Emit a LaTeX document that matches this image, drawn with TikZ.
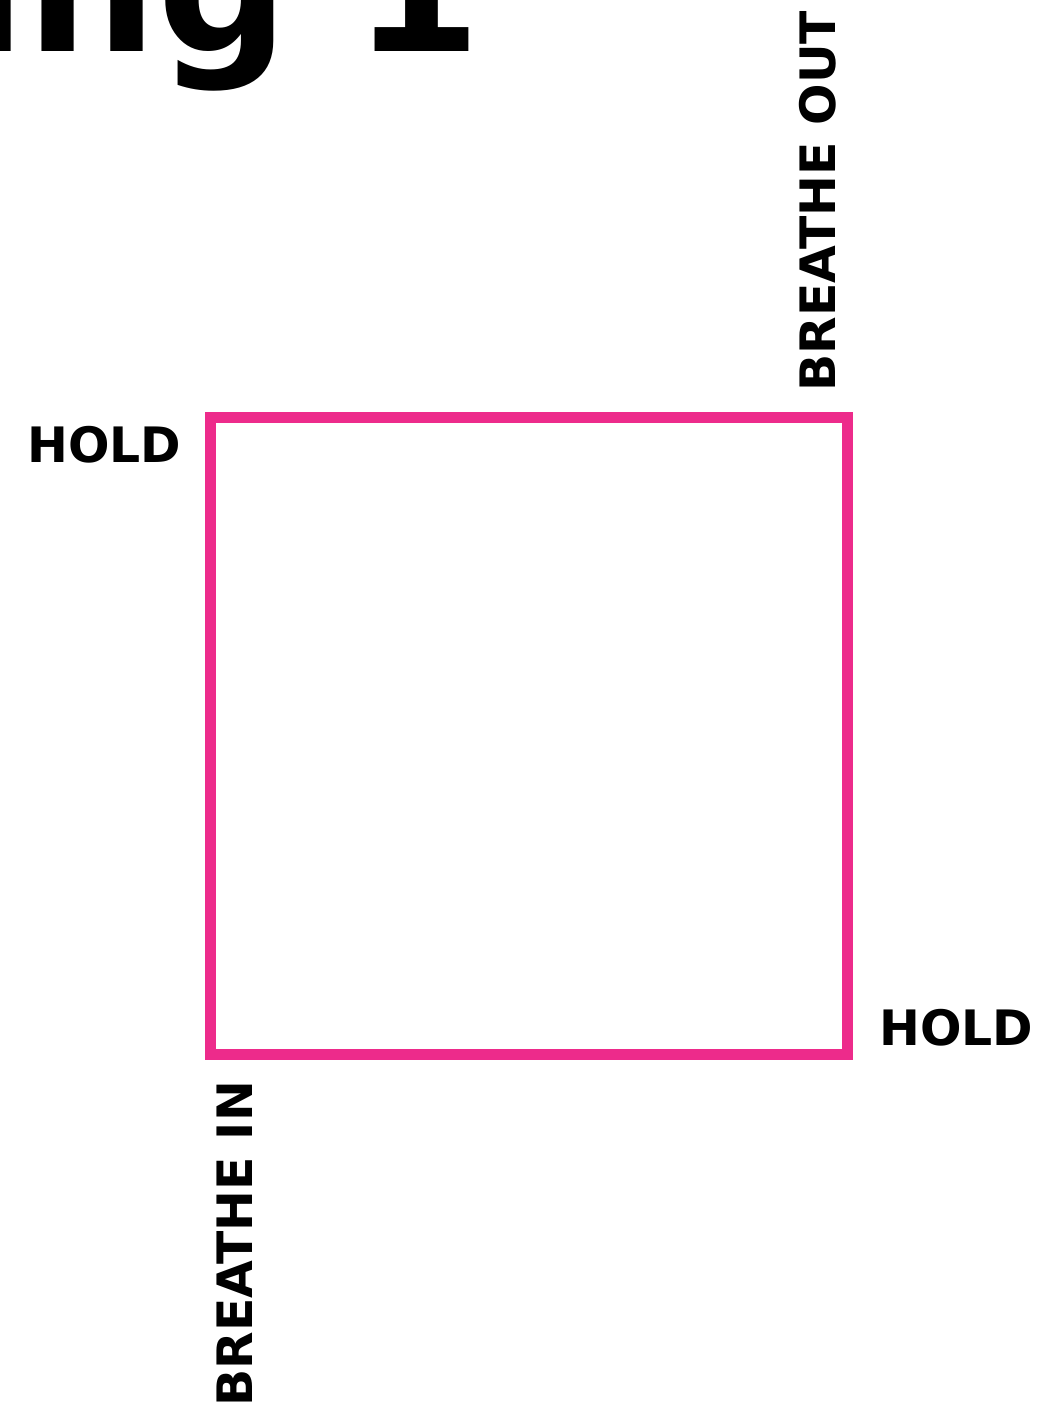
\documentclass[tikz,border=0pt]{standalone}
\usepackage{fontspec}
\setmainfont{DejaVu Sans}
\usepackage{tikz}
\usetikzlibrary{positioning}

\definecolor{boxpink}{RGB}{237,43,139}

\begin{document}
\begin{tikzpicture}[x=0.5pt,y=-0.5pt,
    cue/.style={inner sep=0pt,font=\bfseries\fontsize{24.4}{29}\selectfont},
    sidecue/.style={cue,rotate=90,anchor=base west}]
  \useasboundingbox (0,0) rectangle (1042,1408);
  % title, cut off at the top of the page
  \node[inner sep=0pt,anchor=base east,font=\bfseries\fontsize{92}{110}\selectfont] (title) at (482,51) {ing 1};
  % the breathing square
  \node[draw=boxpink,line width=5.5pt,minimum size=318.5pt,inner sep=0pt] (square) at (529,736) {};
  \node[cue,anchor=base west] (holdtop) at (27,462) {HOLD};
  \node[cue,anchor=base west] (holdbottom) at (879,1045) {HOLD};
  \node[sidecue] (breatheout) at (835,392) {BREATHE OUT};
  \node[sidecue] (breathein) at (252,1407) {BREATHE IN};
\end{tikzpicture}
\end{document}
